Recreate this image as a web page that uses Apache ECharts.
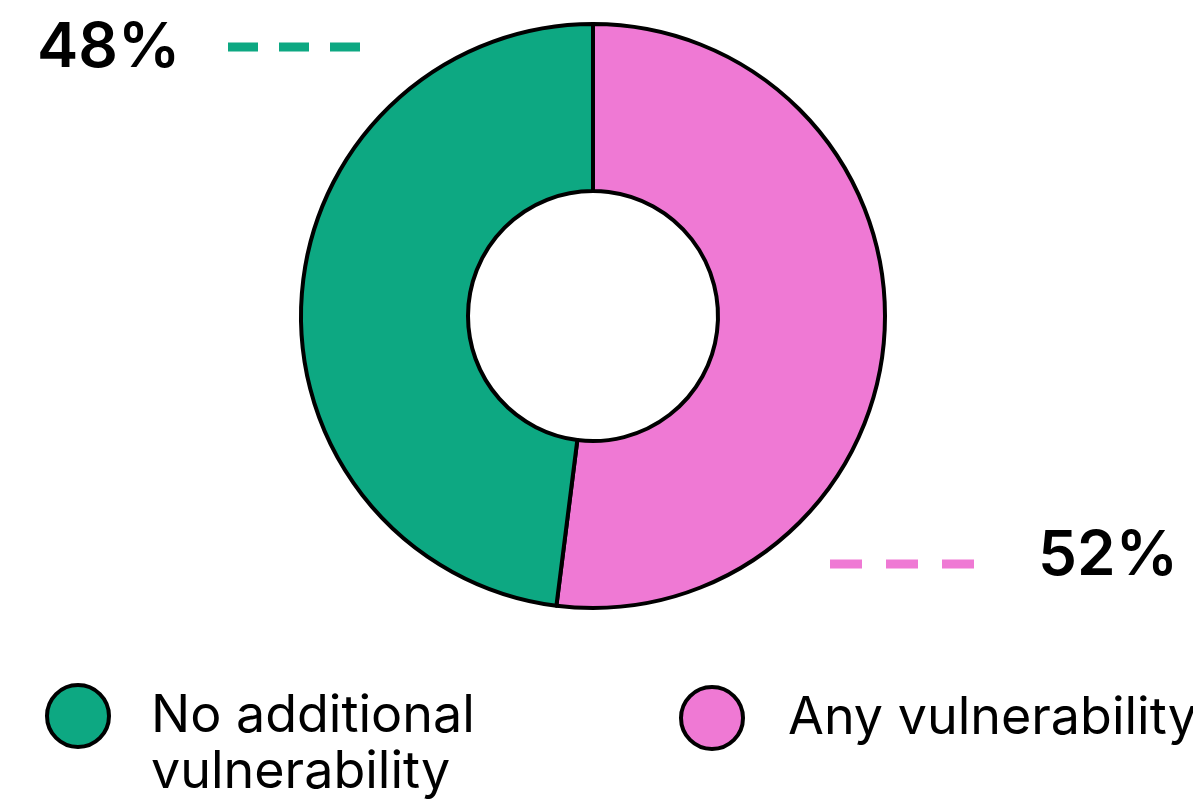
<!DOCTYPE html>
<html>
<head>
<meta charset="utf-8">
<script src="https://cdn.jsdelivr.net/npm/echarts@6/dist/echarts.min.js"></script>
<style>
  html, body { margin: 0; padding: 0; background: #fff; }
  #chart { width: 1193px; height: 804px; }
</style>
</head>
<body>
<div id="chart"></div>
<script>
// data
const categories = ['Any vulnerability', 'No additional vulnerability']
const values = [52, 48]
const colors = ['#ef79d4', '#0da882']
// blank first line keeps the first text line level with the legend dot
const legendText = {
  'No additional vulnerability': '\nNo additional\nvulnerability',
  'Any vulnerability': 'Any vulnerability'
}

// where each percentage label and its dashed line sit
const labelSpots = [
  { x: 1178, y: 556, align: 'right', line: [[830, 564], [902, 564], [975, 564]], dash: [32, 24] },
  { x: 37, y: 48, align: 'left', line: [[228, 47], [294, 47], [360, 47]], dash: [30, 21] }
]

const chart = echarts.init(document.getElementById('chart'))

const font = 'Inter, "Noto Sans", sans-serif'

const legendBase = {
  orient: 'horizontal',
  icon: 'circle',
  itemWidth: 62,
  itemHeight: 62,
  selectedMode: false,
  itemStyle: { borderColor: '#000', borderWidth: 4 },
  formatter: (name) => legendText[name],
  textStyle: {
    fontFamily: font,
    fontSize: 52,
    lineHeight: 56,
    color: '#000'
  }
}

chart.setOption({
  animation: false,
  backgroundColor: '#fff',
  legend: [
    Object.assign({}, legendBase, {
      left: 40,
      top: 627,
      data: [categories[1]],
      textStyle: Object.assign({}, legendBase.textStyle, { padding: [0, 0, 0, 37] })
    }),
    Object.assign({}, legendBase, {
      left: 674,
      top: 680,
      data: [categories[0]],
      textStyle: Object.assign({}, legendBase.textStyle, { padding: [0, 0, 0, 40] })
    })
  ],
  series: [
    {
      type: 'pie',
      center: [593, 316],
      radius: [125, 292],
      startAngle: 90,
      clockwise: true,
      silent: true,
      itemStyle: { borderColor: '#000', borderWidth: 4 },
      label: {
        show: true,
        formatter: '{d}%',
        fontFamily: font,
        fontSize: 62,
        fontWeight: 600,
        color: '#000'
      },
      labelLine: {
        show: true,
        lineStyle: { width: 9, cap: 'butt' }
      },
      labelLayout: (params) => {
        const s = labelSpots[params.dataIndex]
        return {
          x: s.x,
          y: s.y,
          align: s.align,
          verticalAlign: 'middle',
          labelLinePoints: s.line
        }
      },
      data: categories.map((name, i) => ({
        name,
        value: values[i],
        itemStyle: { color: colors[i] },
        labelLine: {
          lineStyle: {
            color: colors[i],
            width: 9,
            type: labelSpots[i].dash,
            cap: 'butt'
          }
        }
      }))
    }
  ]
})

window.addEventListener('resize', () => chart.resize())
</script>
</body>
</html>
